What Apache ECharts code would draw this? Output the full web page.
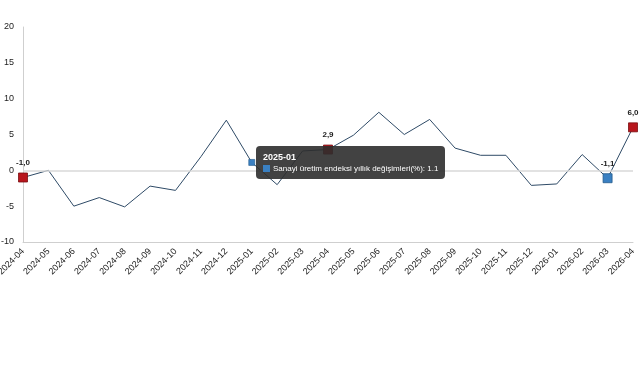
<!DOCTYPE html>
<html>
<head>
<meta charset="utf-8">
<style>
  html, body { margin: 0; padding: 0; background: #fff; }
  #chart { width: 641px; height: 380px; }
</style>
<script src="https://cdn.jsdelivr.net/npm/echarts@6/dist/echarts.min.js"></script>
</head>
<body>
<div id="chart"></div>
<script>
const SERIES_NAME = 'Sanayi üretim endeksi yıllık değişimleri(%)'

const months = [
  '2024-04', '2024-05', '2024-06', '2024-07', '2024-08', '2024-09', '2024-10',
  '2024-11', '2024-12', '2025-01', '2025-02', '2025-03', '2025-04', '2025-05',
  '2025-06', '2025-07', '2025-08', '2025-09', '2025-10', '2025-11', '2025-12',
  '2026-01', '2026-02', '2026-03', '2026-04'
]
const values = [
  -1.0, 0.0, -5.0, -3.8, -5.1, -2.2, -2.8,
  1.9, 7.0, 1.1, -2.0, 2.7, 2.9, 4.9,
  8.1, 5.0, 7.1, 3.1, 2.1, 2.1, -2.1,
  -1.9, 2.2, -1.1, 6.0
]
const yTicks = { min: -10, max: 20, step: 5 }

// marked points
const redPoints = [0, 12, 24]
const bluePoints = [23]
const hoverIndex = 9

const RED = '#b8161d'
const BLUE = '#3a80c2'

const chart = echarts.init(document.getElementById('chart'))

const seriesData = values.map((v, i) => {
  if (redPoints.includes(i) || bluePoints.includes(i)) {
    const red = redPoints.includes(i)
    return {
      value: v,
      symbol: 'rect',
      symbolSize: 9,
      itemStyle: {
        color: red ? RED : BLUE,
        borderColor: red ? '#7a0e12' : '#235a8c',
        borderWidth: 0.8
      },
      label: {
        show: true,
        position: 'top',
        distance: 6,
        formatter: p => p.value.toFixed(1).replace('.', ',')
      }
    }
  }
  if (i === hoverIndex) {
    return {
      value: v,
      symbol: 'rect',
      symbolSize: 6,
      itemStyle: { color: BLUE, borderColor: '#235a8c', borderWidth: 0.6 }
    }
  }
  return { value: v, symbol: 'none' }
})

const option = {
  animation: false,
  grid: {
    top: 27,
    left: 23,
    right: 8,
    bottom: 138,
    outerBoundsMode: 'none',
    containLabel: false
  },
  tooltip: {
    trigger: 'item',
    triggerOn: 'none',
    alwaysShowContent: true,
    transitionDuration: 0,
    position: [256, 146],
    backgroundColor: 'rgba(45,45,45,0.9)',
    borderWidth: 0,
    borderRadius: 4,
    padding: [5, 7, 4, 7],
    extraCssText: 'box-shadow:none;',
    formatter: p => '<div style="font:bold 9px \'Liberation Sans\',Arial;color:#fff;line-height:12px">' + months[p.dataIndex] + '</div>' +
      '<div style="font:8px \'Liberation Sans\',Arial;color:#fff;line-height:12px">' +
      '<span style="display:inline-block;width:7px;height:7px;background:' + BLUE + ';margin-right:3px;vertical-align:-1px"></span>' +
      SERIES_NAME + ': ' + p.value + '</div>'
  },
  xAxis: {
    type: 'category',
    data: months,
    boundaryGap: false,
    axisLine: { onZero: false, lineStyle: { color: '#cfcfcf', width: 1 } },
    axisTick: { show: false },
    axisLabel: {
      rotate: 45,
      interval: 0,
      fontSize: 9,
      fontFamily: 'Liberation Sans',
      color: '#222',
      margin: 8
    }
  },
  yAxis: {
    type: 'value',
    min: yTicks.min,
    max: yTicks.max,
    interval: yTicks.step,
    axisLine: { show: true, lineStyle: { color: '#cfcfcf', width: 1 } },
    axisTick: { show: false },
    splitLine: { show: false },
    axisLabel: {
      fontSize: 9,
      fontFamily: 'Liberation Sans',
      color: '#222',
      margin: 9
    }
  },
  series: [{
    name: SERIES_NAME,
    type: 'line',
    data: seriesData,
    showSymbol: true,
    lineStyle: { color: '#2e4a66', width: 1 },
    itemStyle: { color: '#2e4a66' },
    emphasis: { disabled: true },
    label: {
      fontSize: 8,
      fontWeight: 'bold',
      fontFamily: 'Liberation Sans',
      color: '#222'
    },
    markLine: {
      silent: true,
      symbol: 'none',
      label: { show: false },
      lineStyle: { color: '#d8d8d8', type: 'solid', width: 1.5 },
      data: [{ yAxis: 0 }]
    },
    z: 3
  }]
}

chart.setOption(option)
chart.dispatchAction({ type: 'showTip', seriesIndex: 0, dataIndex: hoverIndex })
</script>
</body>
</html>
